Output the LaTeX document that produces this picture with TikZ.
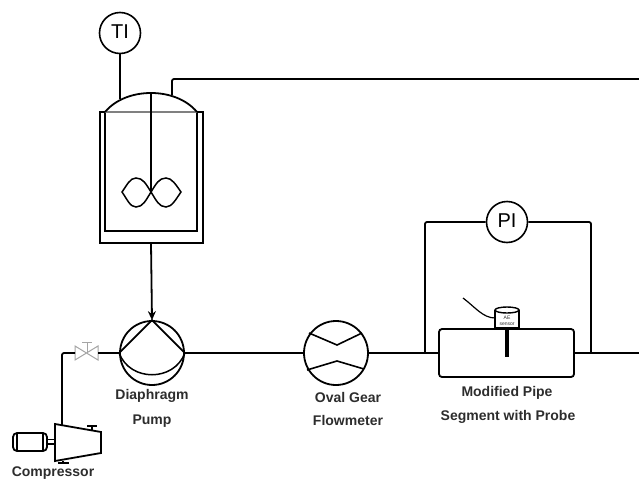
\documentclass[tikz,border=0pt]{standalone}
\usepackage{fontspec}
\setmainfont{Liberation Sans}
\usetikzlibrary{arrows.meta, calc}
\definecolor{labelgray}{RGB}{45, 45, 45}
\definecolor{valvegray}{RGB}{165, 165, 165}
\tikzset{
  pipeline/.style={line width=1.8pt, rounded corners=2pt},
  instrument/.style={draw, line width=1.6pt, circle, minimum size=41pt, inner sep=0pt, font=\fontsize{20}{20}\selectfont, fill=white},
  rotary/.style={draw, line width=1.8pt, circle, minimum size=64pt, inner sep=0pt},
  unitlabel/.style={font=\fontsize{14}{14}\selectfont\bfseries, text=labelgray, inner sep=0pt},
}

\begin{document}
\begin{tikzpicture}[x=1pt, y=-1pt]
\useasboundingbox (0,0) rectangle (639,479);

% Vessel jacket and inner wall
\draw[line width=1.8pt] (100,112) rectangle (203,243);
\draw[line width=2.2pt, fill=white] (105,112) -- (105,231) -- (197,231) -- (197,112);
\draw[line width=1.1pt, gray] (105,112) -- (197,112);

% Dome
\coordinate (domeleft) at (105,112);
\coordinate (domeright) at (197,112);
\coordinate (dometop) at (151,93);
\draw[line width=1.8pt] (domeleft) .. controls (115,100) and (132,93) .. (dometop) .. controls (170,93) and (187,100) .. (domeright);

% Shaft and impeller
\coordinate (hub) at (151,192);
\draw[line width=1.6pt] (dometop) -- (hub);
\draw[line width=1.5pt] (hub) .. controls (146,184) and (143,178) .. (136,178) .. controls (130,178) and (127,185) .. (122,192) .. controls (127,199) and (130,207) .. (136,207) .. controls (143,207) and (146,200) .. (hub);
\draw[line width=1.5pt] (hub) .. controls (156,184) and (159,178) .. (166,178) .. controls (172,178) and (176,185) .. (181,192) .. controls (176,199) and (172,207) .. (166,207) .. controls (159,207) and (156,200) .. (hub);

% Temperature indicator
\node[instrument] (ti) at (120,33) {\raisebox{2pt}{TI}};
\coordinate (tifoot) at (120,99);
\draw[pipeline] (ti) -- (tifoot);

% Return line
\coordinate (returnstart) at (172,95);
\coordinate (returnend) at (639,79);
\draw[pipeline] (returnstart) |- (returnend);

% Pump
\node[rotary] (pump) at (152,353) {};
\coordinate (vesselout) at (151,243);
\draw[pipeline, -{Stealth[length=9pt, width=8pt]}] (vesselout) -- (pump.north);
\draw[line width=1.8pt] (pump.west) -- (pump.north) -- (pump.east);
\draw[line width=1.5pt] (pump.west) .. controls (130,382) and (174,382) .. (pump.east);
\node[unitlabel] (pumplabela) at (152,396) {Diaphragm};
\node[unitlabel] (pumplabelb) at (152,421) {Pump};

% Flowmeter
\node[rotary] (meter) at (336,353) {};
\draw[pipeline] (pump) -- (meter);
\draw[line width=1.6pt] (309,333) -- (337,345) -- (362,333);
\draw[line width=1.6pt] (307,370) -- (337,361) -- (364,369);
\node[unitlabel] (meterlabela) at (348,397) {Oval Gear};
\node[unitlabel] (meterlabelb) at (348,420) {Flowmeter};

% Modified pipe segment
\node[draw, line width=1.8pt, rounded corners=3pt, minimum width=135pt, minimum height=48pt, inner sep=0pt] (segment) at (506.5,353) {};
\coordinate (outlet) at (639,353);
\draw[pipeline] (meter) -- (segment);
\draw[pipeline] (segment) -- (outlet);
\node[unitlabel] (segmentlabela) at (507,393) {Modified Pipe};
\node[unitlabel] (segmentlabelb) at (508,417) {Segment with Probe};

% Pressure indicator loop
\node[instrument] (pi) at (507,222) {\raisebox{2pt}{PI}};
\coordinate (tapleft) at (425,353);
\coordinate (tapright) at (591,353);
\draw[pipeline] (pi) -- (425,222) -- (tapleft);
\draw[pipeline] (pi) -- (591,222) -- (tapright);

% Probe and sensor
\draw[line width=3.5pt] (507,329) -- (507,357);
\draw[line width=1.4pt, fill=white] (495,310) -- (495,328) -- (519,328) -- (519,310);
\draw[line width=1.4pt] (507,310) ellipse [x radius=12pt, y radius=3pt];
\node[font=\fontsize{5}{5.5}\selectfont, align=center, text=labelgray, inner sep=0pt] (sensor) at (507,321) {AE\\sensor};
\coordinate (cableend) at (463,298);
\draw[line width=1.2pt] (cableend) .. controls (475,307) and (483,318) .. (495,318);

% Valve
\node[inner sep=0pt, minimum size=1pt] (valve) at (87,353) {};
\draw[valvegray, line width=1pt] (75,346) -- (98,360) -- (98,346) -- (75,360) -- cycle;
\draw[valvegray, line width=1pt] (valve) -- (87,342) (82,342) -- (92,342);
\coordinate (valveright) at (98,353);
\coordinate (valveleft) at (75,353);
\draw[pipeline] (pump.west) -- (valveright);

% Compressor
\coordinate (compout) at (62,425);
\draw[pipeline] (valveleft) -- (62,353) -- (compout);
\draw[line width=1.8pt, fill=white] (55,424) -- (101,432) -- (101,453) -- (55,461) -- cycle;
\draw[line width=1.8pt] (92,431) -- (92,426) (87,426) -- (97,426);
\draw[line width=1.8pt] (63,461) -- (63,463) (58,463) -- (69,463);
\node[draw, line width=1.8pt, rounded corners=4pt, minimum width=34pt, minimum height=18pt, inner sep=0pt] (motor) at (30,442) {};
\draw[line width=1.4pt] (17,433) -- (17,451) (43,433) -- (43,451);
\draw[line width=1.4pt] (47,439.5) -- (55,439.5) (47,444) -- (55,444);
\node[unitlabel] (complabel) at (53,473) {Compressor};
\end{tikzpicture}
\end{document}
